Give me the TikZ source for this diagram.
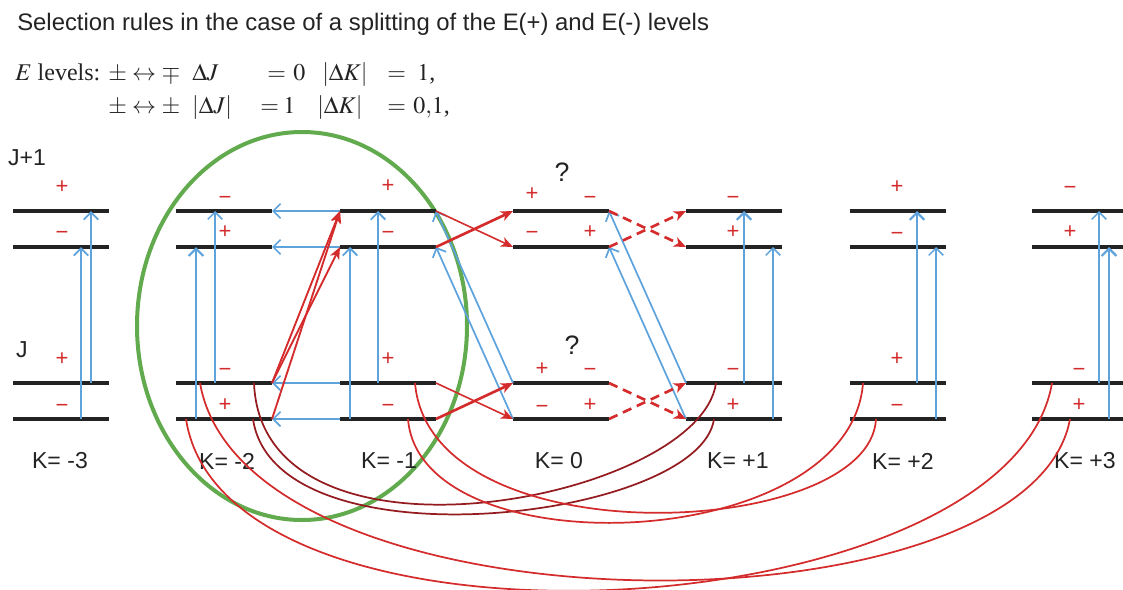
\documentclass[tikz,border=0pt]{standalone}
\usepackage{mathptmx}
\usepackage[no-math]{fontspec}
\setmainfont{Liberation Serif}
\newfontfamily\arialfont{Liberation Sans}
\usetikzlibrary{arrows.meta,calc}

\definecolor{trblue}{RGB}{95,163,221}
\definecolor{trred}{RGB}{212,44,44}
\definecolor{trdark}{RGB}{148,28,32}
\definecolor{ovgreen}{RGB}{98,170,78}
\definecolor{ink}{RGB}{35,35,35}

\tikzset{
  levelbar/.style={draw=ink, line width=3.5pt},
  sign/.style={text=trred, font=\arialfont\fontsize{16.5}{17}\selectfont, inner sep=0pt, text height=11.5pt, text depth=0pt},
  klabel/.style={text=ink, font=\arialfont\fontsize{17.3}{19}\selectfont, inner sep=0pt},
  rules/.style={text=ink, font=\fontsize{18}{21}\selectfont, inner sep=0pt, anchor=base west},
  heading/.style={text=ink, font=\arialfont\fontsize{17.9}{20}\selectfont, inner sep=0pt, anchor=base west},
  green oval/.style={draw=ovgreen, line width=3pt},
  blue arr/.style={draw=trblue, line width=1.4pt, -{Straight Barb[length=5.5pt,width=11pt]}},
  red arr/.style={draw=trred, line width=1.4pt, -{Stealth[length=9pt,width=7.5pt,inset=2.5pt]}},
  red dash/.style={red arr, line width=2pt, dash pattern=on 7pt off 4.5pt},
  link/.style={draw=trred, line width=1.3pt},
  dark link/.style={draw=trdark, line width=1.3pt},
}

\begin{document}
\begin{tikzpicture}[x=0.75pt, y=-0.75pt]
\useasboundingbox (0,0) rectangle (1123,589);

% title and the selection rules
\node[heading] (title) at (17,30) {Selection rules in the case of a splitting of the E(+) and E(-) levels};
\node[rules] (rule1) at (15,80) {\makebox[69.75pt][l]{$E$ levels:}\makebox[63pt][l]{$\pm\leftrightarrow\mp$}\makebox[56.25pt][l]{$\Delta J$}\makebox[19.5pt][l]{$=$}\makebox[21.75pt][l]{$0$}\makebox[48.75pt][l]{$|\Delta K|$}\makebox[22.5pt][l]{$=$}$1$,};
\node[rules] (rule2) at (108,113) {\makebox[63pt][l]{$\pm\leftrightarrow\pm$}\makebox[51pt][l]{$|\Delta J|$}\makebox[17.25pt][l]{$=$}\makebox[25.5pt][l]{$1$}\makebox[52.5pt][l]{$|\Delta K|$}\makebox[19.5pt][l]{$=$}$0{,}1$,};

% the circled group K=-2, K=-1
\draw[green oval] (302,326) ellipse [x radius=165, y radius=194];

% levels: u1,u2 = J+1 ; l1,l2 = J
\foreach \k/\x in {km3/13, km2/176, km1/340, k0/513, kp1/686, kp2/850, kp3/1032} {
  \foreach \l/\y in {u1/211, u2/247, l1/383, l2/419} {
    \coordinate (\k-\l-w) at (\x,\y);
    \coordinate (\k-\l-e) at (\x+96,\y);
    \draw[levelbar] (\k-\l-w) -- (\k-\l-e);
  }
}

% J labels
\node[klabel] (jup) at (27,158) {J+1};
\node[klabel] (jlow) at (22,350) {J};
\node[text=ink, font=\arialfont\fontsize{20}{22}\selectfont] (q1) at (562,172) {?};
\node[text=ink, font=\arialfont\fontsize{20}{22}\selectfont] (q2) at (572,345) {?};

% K labels
\node[klabel] (lab-km3) at (60,461) {K= -3};
\node[klabel] (lab-km2) at (227,461) {K= -2};
\node[klabel] (lab-km1) at (389,461) {K= -1};
\node[klabel] (lab-k0) at (559,461) {K= 0};
\node[klabel] (lab-kp1) at (738,461) {K= +1};
\node[klabel] (lab-kp2) at (903,461) {K= +2};
\node[klabel] (lab-kp3) at (1085,461) {K= +3};

% parity signs
\foreach \n/\x/\y/\s in {a1/62/186/+, a2/62/232/−, a3/62/358/+, a4/62/405/−,
    b1/225/197/−, b2/225/231/+, b3/225/369/−, b4/225/404/+,
    c1/388/185/+, c2/388/232/−, c3/388/358/+, c4/388/405/−,
    d1/532/193/+, d2/590/197/−, d3/532/232/−, d4/590/231/+,
    d5/542/368/+, d6/590/369/−, d7/542/406/−, d8/590/404/+,
    e1/733/197/−, e2/733/231/+, e3/733/369/−, e4/733/404/+,
    f1/897/186/+, f2/897/233/−, f3/897/358/+, f4/897/405/−,
    g1/1070/187/−, g2/1070/231/+, g3/1079/369/−, g4/1079/404/+} {
  \node[sign] (sign-\n) at (\x,\y) {\s};
}

% blue transitions J -> J+1
\draw[blue arr] ($(km3-l2-w)+(68,0)$) -- ($(km3-u2-w)+(68,0)$);
\draw[blue arr] ($(km3-l1-w)+(78,0)$) -- ($(km3-u1-w)+(78,0)$);
\draw[blue arr, line width=1.7pt] ($(km2-l2-w)+(20,0)$) -- ($(km2-u2-w)+(20,0)$);
\draw[blue arr, line width=1.1pt] ($(km2-l1-w)+(39,0)$) -- ($(km2-u1-w)+(39,0)$);
\draw[blue arr] ($(km1-l2-w)+(10,0)$) -- ($(km1-u2-w)+(10,0)$);
\draw[blue arr] ($(km1-l1-w)+(38,0)$) -- ($(km1-u1-w)+(38,0)$);
\draw[blue arr, line width=1.6pt] ($(kp1-l1-w)+(58,0)$) -- ($(kp1-u1-w)+(58,0)$);
\draw[blue arr, line width=1.1pt] ($(kp1-l2-w)+(87,0)$) -- ($(kp1-u2-w)+(87,0)$);
\draw[blue arr, line width=1.6pt] ($(kp2-l1-w)+(67,0)$) -- ($(kp2-u1-w)+(67,0)$);
\draw[blue arr, line width=1.1pt] ($(kp2-l2-w)+(86,0)$) -- ($(kp2-u2-w)+(86,0)$);
\draw[blue arr, line width=1.1pt] ($(kp3-l1-w)+(67,0)$) -- ($(kp3-u1-w)+(67,0)$);
\draw[blue arr, line width=1.7pt] ($(kp3-l2-w)+(77,0)$) -- ($(kp3-u2-w)+(77,0)$);

% blue transitions between K=-1 and K=-2
\draw[blue arr, line width=1.2pt] (km1-u1-w) -- (km2-u1-e);
\draw[blue arr, line width=1.2pt] (km1-u2-w) -- (km2-u2-e);
\draw[blue arr, line width=1.2pt] (km1-l1-w) -- (km2-l1-e);
\draw[blue arr, line width=1.2pt] (km1-l2-w) -- (km2-l2-e);

% blue diagonals
\draw[blue arr, line width=1.3pt] (k0-l1-w) -- (km1-u1-e);
\draw[blue arr, line width=1.3pt] (k0-l2-w) -- (km1-u2-e);
\draw[blue arr, line width=1.3pt] (kp1-l1-w) -- (k0-u1-e);
\draw[blue arr, line width=1.3pt] (kp1-l2-w) -- (k0-u2-e);

% red transitions K=-2 (J) -> K=-1 (J+1)
\draw[red arr] (km2-l1-e) -- (km1-u1-w);
\draw[red arr] (km2-l1-e) -- (km1-u2-w);
\draw[red arr] (km2-l2-e) -- (km1-u1-w);

% red crossings K=-1 -> K=0
\draw[red arr, line width=1.2pt] (km1-u1-e) -- (k0-u2-w);
\draw[red arr, line width=2pt] (km1-u2-e) -- (k0-u1-w);
\draw[red arr, line width=1.2pt] (km1-l1-e) -- (k0-l2-w);
\draw[red arr, line width=2pt] (km1-l2-e) -- (k0-l1-w);

% dashed crossings K=0 -> K=+1
\draw[red dash] (k0-u1-e) -- (kp1-u2-w);
\draw[red dash] (k0-u2-e) -- (kp1-u1-w);
\draw[red dash] (k0-l1-e) -- (kp1-l2-w);
\draw[red dash] (k0-l2-e) -- (kp1-l1-w);

% couplings below the J levels
\draw[dark link] ($(km2-l1-w)+(78,0)$) .. controls (262,585) and (700,500) .. ($(kp1-l1-w)+(30,0)$);
\draw[dark link] ($(km2-l2-w)+(77,0)$) .. controls (275,570) and (700,520) .. ($(kp1-l2-w)+(28,0)$);
\draw[link] ($(km1-l1-w)+(75,0)$) .. controls (430,560) and (870,540) .. ($(kp2-l2-w)+(26,0)$);
\draw[link] ($(km1-l2-w)+(68,0)$) .. controls (420,570) and (850,555) .. ($(kp2-l1-w)+(13,0)$);
\draw[link] ($(km2-l1-w)+(24,0)$) .. controls (245,640) and (1030,640) .. ($(kp3-l2-w)+(38,0)$);
\draw[link] ($(km2-l2-w)+(10,0)$) .. controls (225,675) and (1010,630) .. ($(kp3-l1-w)+(20,0)$);
\end{tikzpicture}
\end{document}
